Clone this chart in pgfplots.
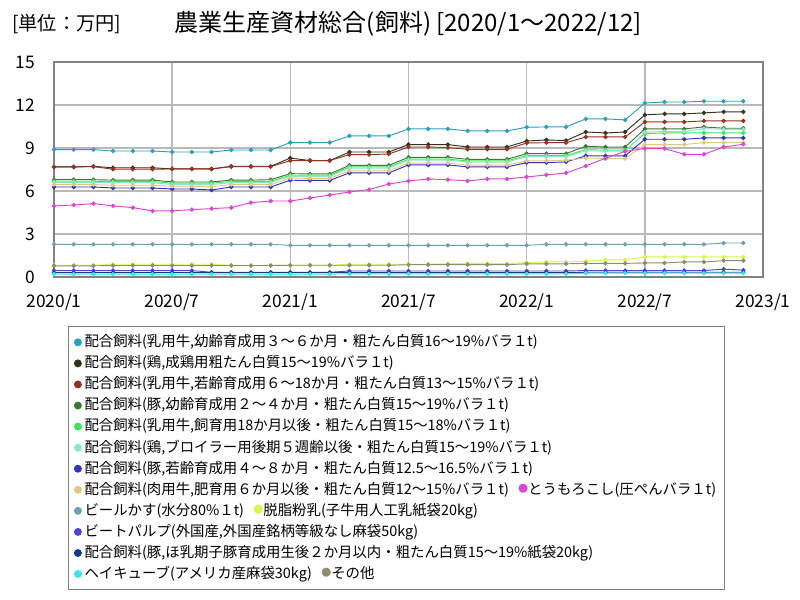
\documentclass[border=0pt]{standalone}
\usepackage{pgfplots}
\pgfplotsset{compat=1.18}
\usepackage{pgfplotstable}
\usepackage{fontspec}
\setmainfont{Noto Sans CJK JP}

\definecolor{c1}{RGB}{40,160,190}
\definecolor{c2}{RGB}{50,50,30}
\definecolor{c3}{RGB}{150,50,30}
\definecolor{c4}{RGB}{60,120,50}
\definecolor{c5}{RGB}{60,230,90}
\definecolor{c6}{RGB}{140,230,200}
\definecolor{c7}{RGB}{50,50,190}
\definecolor{c8}{RGB}{225,200,130}
\definecolor{c9}{RGB}{220,70,210}
\definecolor{c10}{RGB}{110,160,180}
\definecolor{c11}{RGB}{210,250,80}
\definecolor{c12}{RGB}{80,70,210}
\definecolor{c13}{RGB}{20,60,140}
\definecolor{c14}{RGB}{60,230,230}
\definecolor{c15}{RGB}{140,140,110}
\definecolor{gridc}{RGB}{185,185,185}
\definecolor{framec}{RGB}{130,130,130}

\pgfplotstableread{
m s1 s2 s3 s4 s5 s6 s7 s8 s9 s10 s11 s12 s13 s14 s15
0 8.89 7.68 7.68 6.79 6.68 6.60 6.28 6.45 4.96 2.28 0.82 0.45 0.30 0.20 0.78
1 8.89 7.68 7.68 6.79 6.68 6.60 6.28 6.45 5.02 2.28 0.82 0.45 0.30 0.20 0.78
2 8.89 7.72 7.70 6.79 6.68 6.60 6.28 6.45 5.12 2.28 0.82 0.45 0.30 0.20 0.78
3 8.79 7.62 7.52 6.76 6.66 6.58 6.21 6.40 4.96 2.28 0.89 0.45 0.30 0.20 0.80
4 8.79 7.62 7.52 6.76 6.66 6.58 6.21 6.40 4.84 2.28 0.89 0.45 0.30 0.20 0.80
5 8.79 7.62 7.52 6.76 6.66 6.58 6.21 6.40 4.61 2.28 0.89 0.45 0.30 0.20 0.80
6 8.72 7.54 7.54 6.63 6.55 6.45 6.14 6.33 4.61 2.28 0.89 0.45 0.30 0.20 0.80
7 8.72 7.54 7.54 6.63 6.55 6.45 6.14 6.33 4.70 2.28 0.89 0.45 0.30 0.20 0.80
8 8.72 7.54 7.54 6.63 6.55 6.45 6.07 6.30 4.77 2.28 0.89 0.33 0.30 0.20 0.80
9 8.86 7.72 7.70 6.76 6.66 6.58 6.28 6.45 4.84 2.28 0.82 0.33 0.30 0.20 0.80
10 8.86 7.72 7.70 6.76 6.66 6.58 6.28 6.45 5.19 2.28 0.78 0.33 0.30 0.20 0.80
11 8.86 7.72 7.70 6.79 6.68 6.60 6.28 6.45 5.30 2.28 0.82 0.33 0.30 0.20 0.80
12 9.38 8.30 8.12 7.21 7.10 7.02 6.75 6.90 5.30 2.21 0.82 0.33 0.30 0.20 0.82
13 9.38 8.12 8.12 7.19 7.10 7.02 6.74 6.88 5.51 2.21 0.82 0.33 0.30 0.20 0.82
14 9.38 8.12 8.12 7.19 7.10 7.02 6.74 6.88 5.72 2.21 0.82 0.33 0.30 0.20 0.82
15 9.84 8.72 8.54 7.79 7.68 7.60 7.26 7.40 5.93 2.21 0.89 0.42 0.30 0.22 0.82
16 9.84 8.72 8.54 7.79 7.68 7.60 7.26 7.40 6.10 2.21 0.89 0.42 0.30 0.22 0.82
17 9.84 8.72 8.58 7.79 7.68 7.60 7.26 7.40 6.49 2.21 0.89 0.42 0.30 0.22 0.82
18 10.33 9.24 9.07 8.35 8.22 8.15 7.82 7.95 6.70 2.21 0.89 0.42 0.30 0.22 0.86
19 10.33 9.24 9.07 8.35 8.22 8.15 7.82 7.95 6.84 2.21 0.89 0.42 0.30 0.22 0.86
20 10.33 9.24 9.03 8.35 8.22 8.15 7.82 7.95 6.79 2.21 0.93 0.42 0.30 0.22 0.86
21 10.19 9.07 8.91 8.21 8.10 8.02 7.68 7.80 6.70 2.21 0.93 0.42 0.30 0.22 0.86
22 10.19 9.07 8.91 8.21 8.10 8.02 7.68 7.80 6.84 2.21 0.93 0.42 0.30 0.22 0.86
23 10.19 9.07 8.91 8.21 8.10 8.02 7.68 7.80 6.84 2.21 0.93 0.42 0.30 0.22 0.86
24 10.45 9.49 9.35 8.61 8.47 8.40 7.98 8.10 6.98 2.21 1.02 0.42 0.30 0.22 0.92
25 10.47 9.56 9.37 8.61 8.47 8.40 7.98 8.10 7.12 2.28 1.05 0.42 0.30 0.22 0.92
26 10.47 9.52 9.37 8.61 8.47 8.40 8.03 8.15 7.26 2.28 1.05 0.42 0.30 0.22 0.92
27 11.03 10.12 9.77 9.12 8.88 8.80 8.45 8.30 7.75 2.28 1.10 0.45 0.33 0.27 0.95
28 11.03 10.05 9.77 9.07 8.85 8.78 8.45 8.26 8.28 2.28 1.20 0.45 0.33 0.27 0.95
29 10.96 10.12 9.77 9.07 8.85 8.78 8.45 8.26 8.77 2.28 1.20 0.45 0.33 0.27 0.95
30 12.14 11.31 10.82 10.33 10.00 10.10 9.61 9.24 8.96 2.28 1.40 0.45 0.33 0.27 0.98
31 12.21 11.38 10.82 10.33 10.05 10.15 9.61 9.24 8.96 2.28 1.40 0.45 0.33 0.27 0.98
32 12.21 11.38 10.82 10.33 10.05 10.15 9.61 9.24 8.56 2.28 1.40 0.45 0.33 0.27 1.05
33 12.26 11.45 10.89 10.47 10.05 10.35 9.70 9.38 8.56 2.28 1.40 0.45 0.33 0.27 1.05
34 12.26 11.52 10.89 10.38 10.05 10.30 9.70 9.38 9.07 2.37 1.40 0.55 0.33 0.27 1.14
35 12.26 11.52 10.89 10.38 10.05 10.30 9.70 9.38 9.26 2.37 1.40 0.48 0.33 0.27 1.14
}\feed

\newcommand{\legdot}[1]{{\color{#1}\fontsize{7.5}{7.5}\selectfont\raisebox{0.3ex}{●}}}

\begin{document}
\begin{tikzpicture}
\path[use as bounding box] (0,0) rectangle (600pt,450pt);
\node[anchor=west, font=\fontsize{14.4}{16}\selectfont, inner sep=0pt] at (9pt,432pt) {[単位：万円]};
\node[anchor=west, font=\fontsize{18}{20}\selectfont, inner sep=0pt] at (131pt,432pt) {農業生産資材総合(飼料) [2020/1～2022/12]};
\begin{axis}[
  at={(40.5pt,242.25pt)}, anchor=south west,
  width=531.75pt, height=161.25pt, scale only axis,
  xmin=0, xmax=36, ymin=0, ymax=15,
  xtick={0,6,12,18,24,30,36},
  xticklabels={2020/1,2020/7,2021/1,2021/7,2022/1,2022/7,2023/1},
  ytick={0,3,6,9,12,15},
  major tick length=0pt,
  /pgf/number format/assume math mode=true,
  tick label style={font=\fontsize{13}{15}\selectfont},
  yticklabel style={inner sep=0pt, anchor=east, xshift=-14pt},
  xticklabel style={inner sep=0pt, anchor=north, yshift=-12pt},
  grid=major,
  grid style={gridc, line width=1.1pt},
  axis line style={framec, line width=1.2pt},
  every axis plot/.append style={line width=0.7pt, mark=*, mark size=1.3pt},
  clip=false,
  legend image code/.code={\fill[#1] (0pt,0pt) circle (2.6pt);},
  legend cell align=left,
  legend style={at={(0.0197,-0.2279)}, anchor=north west,
    draw=framec, line width=1pt, font=\fontsize{10.8}{12}\selectfont,
    nodes={inner ysep=0pt, text height=9pt, text depth=2.5pt},
    row sep=4.3pt, inner xsep=4pt, inner ysep=6pt},
]
\addplot[c1] table[x=m,y=s1] {\feed};
\addlegendentry{配合飼料(乳用牛,幼齢育成用３～６か月・粗たん白質16～19\%バラ１t)}
\addplot[c2] table[x=m,y=s2] {\feed};
\addlegendentry{配合飼料(鶏,成鶏用粗たん白質15～19\%バラ１t)}
\addplot[c3] table[x=m,y=s3] {\feed};
\addlegendentry{配合飼料(乳用牛,若齢育成用６～18か月・粗たん白質13～15\%バラ１t)}
\addplot[c4] table[x=m,y=s4] {\feed};
\addlegendentry{配合飼料(豚,幼齢育成用２～４か月・粗たん白質15～19\%バラ１t)}
\addplot[c5] table[x=m,y=s5] {\feed};
\addlegendentry{配合飼料(乳用牛,飼育用18か月以後・粗たん白質15～18\%バラ１t)}
\addplot[c6] table[x=m,y=s6] {\feed};
\addlegendentry{配合飼料(鶏,ブロイラー用後期５週齢以後・粗たん白質15～19\%バラ１t)}
\addplot[c7] table[x=m,y=s7] {\feed};
\addlegendentry{配合飼料(豚,若齢育成用４～８か月・粗たん白質12.5～16.5\%バラ１t)}
\addplot[c8] table[x=m,y=s8] {\feed};
\addlegendentry{配合飼料(肉用牛,肥育用６か月以後・粗たん白質12～15\%バラ１t)\hspace{7pt}\legdot{c9}とうもろこし(圧ぺんバラ１t)}
\addplot[c9, forget plot] table[x=m,y=s9] {\feed};
\addplot[c10] table[x=m,y=s10] {\feed};
\addlegendentry{ビールかす(水分80\%１t)\hspace{7pt}\legdot{c11}脱脂粉乳(子牛用人工乳紙袋20kg)}
\addplot[c11, forget plot] table[x=m,y=s11] {\feed};
\addplot[c12] table[x=m,y=s12] {\feed};
\addlegendentry{ビートパルプ(外国産,外国産銘柄等級なし麻袋50kg)}
\addplot[c13] table[x=m,y=s13] {\feed};
\addlegendentry{配合飼料(豚,ほ乳期子豚育成用生後２か月以内・粗たん白質15～19\%紙袋20kg)}
\addplot[c14] table[x=m,y=s14] {\feed};
\addlegendentry{ヘイキューブ(アメリカ産麻袋30kg)\hspace{7pt}\legdot{c15}その他}
\addplot[c15, forget plot] table[x=m,y=s15] {\feed};
\end{axis}
\end{tikzpicture}
\end{document}
